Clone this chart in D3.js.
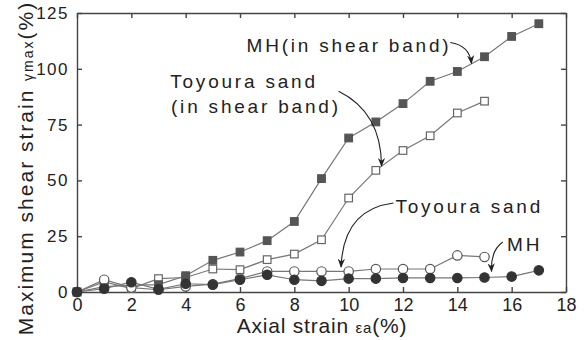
<!DOCTYPE html>
<html>
<head>
<meta charset="utf-8">
<script src="https://cdn.jsdelivr.net/npm/d3@7"></script>
<style>
    body { margin: 0; background: #fff; }
    text { font-family: 'Liberation Sans', Arial, sans-serif; fill: #222; }
</style>
</head>
<body>
<div class="strain-chart"></div>
<script>
// ------------------------------------------------------
const plotWidth = 587;
const plotHeight = 340;
const margin = { top: 13, right: 21, bottom: 48, left: 77 };
// ------------------------------------------------------
const strainMH = [ 0, 1, 2, 3, 4, 5, 6, 7, 8, 9, 10, 11, 12, 13, 14, 15, 16, 17 ];
const strainToyoura = [ 0, 1, 2, 3, 4, 5, 6, 7, 8, 9, 10, 11, 12, 13, 14, 15 ];
const mhBand = [ 0, 2.4, 3, 3.3, 7.3, 14.2, 17.9, 23, 31.6, 50.8, 69, 76.2, 84.4, 94.4, 98.8, 105.4, 114.5, 120.2 ];
const toyouraBand = [ 0, 4.5, 1.5, 6, 6.5, 10.3, 10, 14.5, 17, 23.4, 42.1, 54.5, 63.4, 70, 80.2, 85.5 ];
const toyoura = [ 0, 5.5, 2, 1, 2.5, 3.5, 6, 9.2, 9.2, 9.2, 9.2, 10.3, 10.3, 10.3, 16.4, 15.7 ];
const mh = [ 0, 1.5, 4.4, 1.2, 3.7, 3.3, 5.5, 7.7, 5.5, 5, 6, 6, 6.3, 6.3, 6.3, 6.5, 6.9, 9.7 ];
// ------------------------------------------------------
const xTicks = [ 0, 2, 4, 6, 8, 10, 12, 14, 16, 18 ];
const yTicks = [ 0, 25, 50, 75, 100, 125 ];
// ------------------------------------------------------
window.addEventListener( 'load', function () {
    // --------------------------------------------------
    let svg = d3.select( '.strain-chart' )
        .append( 'svg' )
        .attr( 'width', plotWidth )
        .attr( 'height', plotHeight );
    // --------------------------------------------------
    let x = d3.scaleLinear()
        .domain( [ 0, 18 ] )
        .range( [ margin.left, plotWidth - margin.right ] );
    let y = d3.scaleLinear()
        .domain( [ 0, 125 ] )
        .range( [ plotHeight - margin.bottom, margin.top ] );
    // --------------------------------------------------
    svg.append( 'defs' ).append( 'marker' )
        .attr( 'id', 'head' )
        .attr( 'viewBox', '0 0 10 10' )
        .attr( 'refX', 9 )
        .attr( 'refY', 5 )
        .attr( 'markerWidth', 9 )
        .attr( 'markerHeight', 9 )
        .attr( 'markerUnits', 'userSpaceOnUse' )
        .attr( 'orient', 'auto' )
        .append( 'path' )
        .attr( 'd', 'M0,1 L10,5 L0,9 L3,5 Z' )
        .attr( 'fill', '#222' );
    // --------------------------------------------------
    let axisStyle = function ( g ) {
        g.selectAll( 'path, line' ).attr( 'stroke', '#444' ).attr( 'stroke-width', 1.4 );
    };
    svg.append( 'g' )
        .attr( 'transform', 'translate(0,' + y( 0 ) + ')' )
        .call( d3.axisBottom( x ).tickValues( xTicks ).tickSize( -5 ).tickSizeOuter( 0 ).tickPadding( 6 ) )
        .call( axisStyle )
        .selectAll( 'text' )
        .attr( 'font-size', '18px' )
        .attr( 'fill', '#222' );
    svg.append( 'g' )
        .attr( 'transform', 'translate(0,' + y( 125 ) + ')' )
        .call( d3.axisTop( x ).tickValues( xTicks ).tickSize( -5 ).tickSizeOuter( 0 ).tickFormat( '' ) )
        .call( axisStyle );
    svg.append( 'g' )
        .attr( 'transform', 'translate(' + x( 0 ) + ',0)' )
        .call( d3.axisLeft( y ).tickValues( yTicks ).tickSize( -5 ).tickSizeOuter( 0 ).tickPadding( 8 ) )
        .call( axisStyle )
        .selectAll( 'text' )
        .attr( 'font-size', '17px' )
        .attr( 'letter-spacing', '1.5px' )
        .attr( 'fill', '#222' );
    svg.append( 'g' )
        .attr( 'transform', 'translate(' + x( 18 ) + ',0)' )
        .call( d3.axisRight( y ).tickValues( yTicks ).tickSize( -5 ).tickSizeOuter( 0 ).tickFormat( '' ) )
        .call( axisStyle );
    svg.selectAll( '.domain' ).attr( 'stroke', '#444' );
    // --------------------------------------------------
    let line = d3.line()
        .x( function ( d ) { return x( d[0] ); } )
        .y( function ( d ) { return y( d[1] ); } );
    // --------------------------------------------------
    let series = [
        { xs: strainToyoura, ys: toyouraBand, shape: 'square', fill: '#fff', stroke: '#666' },
        { xs: strainMH, ys: mhBand, shape: 'square', fill: '#555', stroke: '#555' },
        { xs: strainToyoura, ys: toyoura, shape: 'circle', fill: '#fff', stroke: '#555' },
        { xs: strainMH, ys: mh, shape: 'circle', fill: '#333', stroke: '#333' }
    ];
    series.forEach( function ( s ) {
        let pts = s.xs.map( function ( v, i ) { return [ v, s.ys[i] ]; } );
        svg.append( 'path' )
            .attr( 'd', line( pts ) )
            .attr( 'fill', 'none' )
            .attr( 'stroke', '#777' )
            .attr( 'stroke-width', 1.2 );
        if ( s.shape === 'square' ) {
            svg.append( 'g' ).selectAll( 'rect' )
                .data( pts )
                .enter()
                .append( 'rect' )
                .attr( 'x', function ( d ) { return x( d[0] ) - 3.8; } )
                .attr( 'y', function ( d ) { return y( d[1] ) - 3.8; } )
                .attr( 'width', 7.6 )
                .attr( 'height', 7.6 )
                .attr( 'fill', s.fill )
                .attr( 'stroke', s.stroke )
                .attr( 'stroke-width', 1.2 );
        } else {
            svg.append( 'g' ).selectAll( 'circle' )
                .data( pts )
                .enter()
                .append( 'circle' )
                .attr( 'cx', function ( d ) { return x( d[0] ); } )
                .attr( 'cy', function ( d ) { return y( d[1] ); } )
                .attr( 'r', 4.7 )
                .attr( 'fill', s.fill )
                .attr( 'stroke', s.stroke )
                .attr( 'stroke-width', 1.2 );
        }
    });
    // --------------------------------------------------
    // annotations, positions in data units
    let labels = [
        { text: 'MH(in shear band)', at: [ 6.24, 107.6 ] },
        { text: 'Toyoura sand', at: [ 3.43, 91.5 ] },
        { text: '(in shear band)', at: [ 3.46, 80.3 ] },
        { text: 'Toyoura sand', at: [ 11.72, 35.4 ] },
        { text: 'MH', at: [ 15.83, 18.5 ] }
    ];
    svg.selectAll( '.note' )
        .data( labels )
        .enter()
        .append( 'text' )
        .classed( 'note', true )
        .attr( 'x', function ( d ) { return x( d.at[0] ); } )
        .attr( 'y', function ( d ) { return y( d.at[1] ); } )
        .attr( 'font-size', '19px' )
        .attr( 'letter-spacing', '2.8px' )
        .text( function ( d ) { return d.text; } );
    // --------------------------------------------------
    let arrows = [
        { from: [ 13.74, 111.8 ], ctrl: [ 14.45, 110.5 ], to: [ 14.52, 102.4 ] },
        { from: [ 9.63, 89.9 ], ctrl: [ 11.2, 80.5 ], to: [ 11.21, 56.4 ] },
        { from: [ 11.65, 39.9 ], ctrl: [ 9.8, 37 ], to: [ 9.72, 11.2 ] },
        { from: [ 15.67, 22.4 ], ctrl: [ 15.22, 18.5 ], to: [ 15.26, 9.2 ] }
    ];
    svg.selectAll( '.arrow' )
        .data( arrows )
        .enter()
        .append( 'path' )
        .classed( 'arrow', true )
        .attr( 'd', function ( d ) {
            return 'M' + x( d.from[0] ) + ',' + y( d.from[1] ) +
                ' Q' + x( d.ctrl[0] ) + ',' + y( d.ctrl[1] ) +
                ' ' + x( d.to[0] ) + ',' + y( d.to[1] );
        })
        .attr( 'fill', 'none' )
        .attr( 'stroke', '#222' )
        .attr( 'stroke-width', 1.1 )
        .attr( 'marker-end', 'url(#head)' );
    // --------------------------------------------------
    let xTitle = svg.append( 'text' )
        .attr( 'x', 322 )
        .attr( 'y', 333 )
        .attr( 'text-anchor', 'middle' )
        .attr( 'font-size', '21px' )
        .attr( 'letter-spacing', '0.8px' );
    xTitle.append( 'tspan' ).text( 'Axial strain ' );
    xTitle.append( 'tspan' ).attr( 'font-size', '15px' ).text( 'εa' );
    xTitle.append( 'tspan' ).text( '(%)' );
    // --------------------------------------------------
    let yTitle = svg.append( 'text' )
        .attr( 'transform', 'translate(33,168) rotate(-90)' )
        .attr( 'text-anchor', 'middle' )
        .attr( 'font-size', '21px' )
        .attr( 'letter-spacing', '2px' );
    yTitle.append( 'tspan' ).text( 'Maximum shear strain ' );
    yTitle.append( 'tspan' ).attr( 'font-size', '14px' ).text( 'γmax' );
    yTitle.append( 'tspan' ).text( '(%)' );
}, false );
</script>
</body>
</html>
